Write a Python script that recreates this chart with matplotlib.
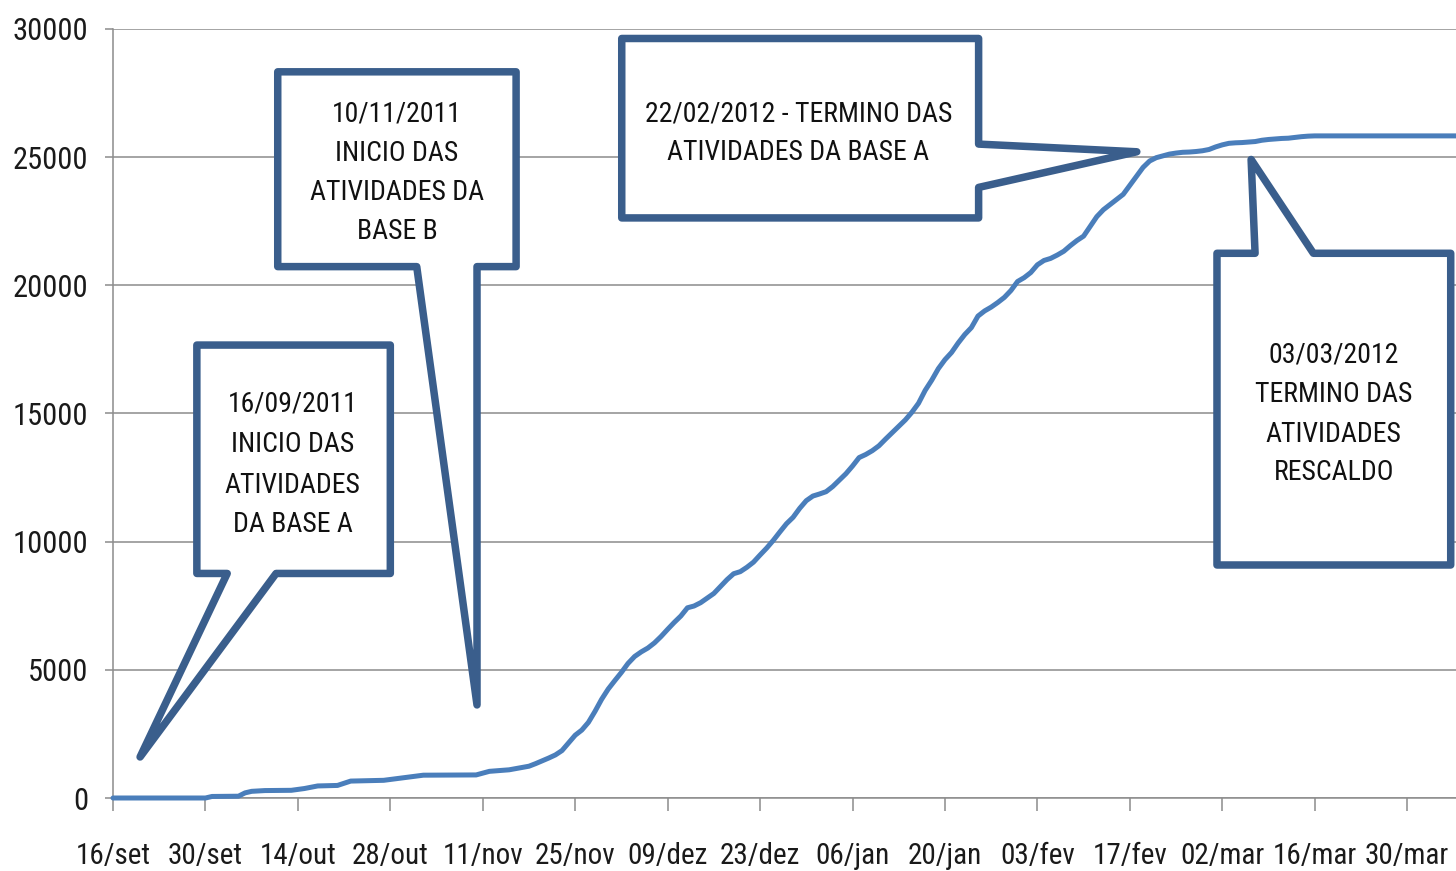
import datetime as dt

import matplotlib
matplotlib.use("Agg")
import matplotlib.pyplot as plt
import matplotlib.dates as mdates
from matplotlib.patches import Polygon

# ---------------------------------------------------------------------------
# Data: cumulative total per day, counted from 16/09/2011
# ---------------------------------------------------------------------------
START = dt.date(2011, 9, 16)

day_offsets = [
    0, 14, 15, 19, 20, 21, 23, 27, 29, 31, 34, 36, 41, 44, 47, 55, 57, 60, 63, 64,
    65, 66, 67, 68, 69, 70, 71, 72, 73, 74, 75, 76, 77, 78, 79, 80, 81, 82, 83, 84,
    85, 86, 87, 88, 89, 90, 91, 92, 93, 94, 95, 96, 97, 98, 99,
    100, 101, 102, 103, 104, 105, 106, 107, 108, 109, 110, 111, 112, 113, 114,
    115, 116, 117, 118, 119, 120, 121, 122, 123, 124, 125, 126, 127, 128, 129,
    130, 131, 132, 133, 134, 135, 136, 137, 138, 139, 140, 141, 142, 143, 144,
    145, 146, 147, 148, 149, 150, 151, 152, 153, 154, 155, 156, 157, 158, 159,
    160, 161, 162, 163, 164, 165, 166, 167, 168, 169, 170, 171, 172, 173, 174,
    175, 176, 177, 178, 179, 180, 181, 182, 205,
]

cumulative = [
    0, 0, 60, 70, 200, 260, 290, 300, 370, 470, 490, 660, 690, 790, 890, 900, 1040, 1100, 1240, 1340,
    1450, 1560, 1680, 1850, 2150, 2450, 2650, 2950, 3380, 3850, 4250, 4580, 4900, 5250, 5520, 5700, 5850, 6050, 6300, 6580,
    6850, 7100, 7420, 7490, 7620, 7800, 7980, 8250, 8520, 8750, 8830, 9000, 9200, 9480, 9750,
    10050, 10380, 10700, 10950, 11300, 11600, 11780, 11860, 11950, 12150, 12400, 12650, 12950, 13280, 13400,
    13550, 13740, 14000, 14250, 14500, 14750, 15050, 15400, 15900, 16300, 16750, 17100, 17380, 17750, 18080,
    18350, 18800, 19000, 19150, 19330, 19530, 19800, 20150, 20300, 20500, 20800, 20970, 21050, 21180, 21330,
    21550, 21750, 21920, 22300, 22680, 22950, 23150, 23350, 23550, 23900, 24250, 24600, 24850, 24980, 25050,
    25120, 25160, 25190, 25200, 25220, 25250, 25300, 25400, 25480, 25540, 25560, 25570, 25590, 25610, 25660,
    25690, 25710, 25730, 25740, 25770, 25800, 25820, 25830, 25830,
]

tick_labels = [
    "16/set", "30/set", "14/out", "28/out", "11/nov", "25/nov", "09/dez",
    "23/dez", "06/jan", "20/jan", "03/fev", "17/fev", "02/mar", "16/mar", "30/mar",
]
tick_step_days = 14

y_ticks = [0, 5000, 10000, 15000, 20000, 25000, 30000]

# Callouts: text lines, box (day_left, day_right, value_bottom, value_top),
# tail geometry, and text anchor (day, value of each line)
callouts = [
    dict(lines=["16/09/2011", "INICIO DAS", "ATIVIDADES", "DA BASE A"],
         box=(12.7, 42.0, 8760, 17670), side="bottom",
         tail=[(24.7, 8760), (4.1, 1600), (17.3, 8760)],
         text_day=27.2, text_values=[15460, 13900, 12290, 10780]),
    dict(lines=["10/11/2011", "INICIO DAS", "ATIVIDADES DA", "BASE B"],
         box=(24.95, 61.05, 20730, 28330), side="bottom",
         tail=[(55.13, 20730), (55.13, 3630), (46.0, 20730)],
         text_day=43.0, text_values=[26760, 25240, 23720, 22200]),
    dict(lines=["22/02/2012 - TERMINO DAS", "ATIVIDADES DA BASE A"],
         box=(77.05, 131.1, 22630, 29630), side="right",
         tail=[(131.1, 25510), (155.06, 25210), (131.1, 23820)],
         text_day=103.8, text_values=[26770, 25280]),
    dict(lines=["03/03/2012", "TERMINO DAS", "ATIVIDADES", "RESCALDO"],
         box=(167.2, 202.6, 9090, 21250), side="top",
         tail=[(172.97, 21250), (172.37, 24910), (181.8, 21250)],
         text_day=184.9, text_values=[17360, 15850, 14290, 12800]),
]

# ---------------------------------------------------------------------------
# Styling
# ---------------------------------------------------------------------------
plt.rcParams["font.family"] = ["Roboto Condensed", "DejaVu Sans"]

LINE_COLOR = "#4A7EBB"
CALLOUT_EDGE = "#3A5E8C"
GRID_COLOR = "#8C8C8C"
TEXT_COLOR = "#1a1a1a"

fig = plt.figure(figsize=(14.56, 8.71), dpi=100)
ax = fig.add_axes([113 / 1456, 1 - 798 / 871, 1 - 113 / 1456, (798 - 29) / 871])

x0 = mdates.date2num(START)
x_values = [x0 + d for d in day_offsets]

ax.plot(x_values, cumulative, color=LINE_COLOR, lw=3.6, solid_joinstyle="round",
        solid_capstyle="round", zorder=3, clip_on=False)

ax.set_ylim(0, 30000)
ax.set_xlim(x0, x0 + 203.4)
ax.set_yticks(y_ticks)
ax.set_yticklabels([str(v) for v in y_ticks])
ax.set_xticks([x0 + tick_step_days * i for i in range(len(tick_labels))])
ax.set_xticklabels(tick_labels)

ax.yaxis.grid(True, color=GRID_COLOR, lw=1.1)
ax.set_axisbelow(True)
for side in ("top", "right"):
    ax.spines[side].set_visible(False)
for side in ("left", "bottom"):
    ax.spines[side].set_color(GRID_COLOR)
    ax.spines[side].set_linewidth(1.1)

ax.tick_params(axis="x", direction="out", length=9.5, width=1.1, color=GRID_COLOR,
               labelsize=21, labelcolor=TEXT_COLOR, pad=22)
ax.tick_params(axis="y", direction="out", length=5.8, width=1.1, color=GRID_COLOR,
               labelsize=22, labelcolor=TEXT_COLOR, pad=12)

# ---------------------------------------------------------------------------
# Callout shapes
# ---------------------------------------------------------------------------
for c in callouts:
    left, right, bottom, top = c["box"]
    t = [(x0 + d, v) for d, v in c["tail"]]
    if c["side"] == "bottom":
        pts = [(x0 + left, top), (x0 + right, top), (x0 + right, bottom),
               t[0], t[1], t[2], (x0 + left, bottom)]
    elif c["side"] == "right":
        pts = [(x0 + left, top), (x0 + right, top), t[0], t[1], t[2],
               (x0 + right, bottom), (x0 + left, bottom)]
    else:  # top
        pts = [(x0 + left, top), t[0], t[1], t[2], (x0 + right, top),
               (x0 + right, bottom), (x0 + left, bottom)]
    ax.add_patch(Polygon(pts, closed=True, facecolor="white", edgecolor=CALLOUT_EDGE,
                         lw=5.4, joinstyle="round", zorder=4, clip_on=False))
    for line, val in zip(c["lines"], c["text_values"]):
        ax.annotate(line, xy=(x0 + c["text_day"], val), xytext=(0, -7.1),
                    textcoords="offset points", ha="center", va="baseline",
                    fontsize=20, color="#111111", zorder=5)

fig.savefig("out.png", dpi=100)
